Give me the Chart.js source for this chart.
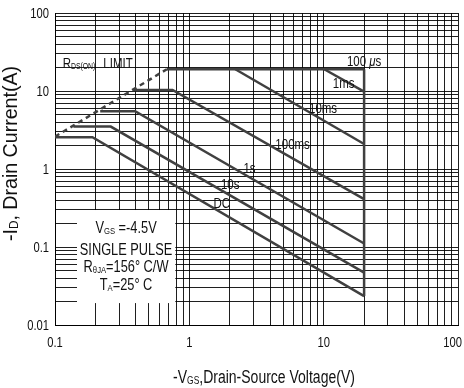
<!DOCTYPE html>
<html>
<head>
<meta charset="utf-8">
<script src="https://cdn.jsdelivr.net/npm/chart.js@4.4.1/dist/chart.umd.min.js"></script>
<style>
  html, body { margin: 0; padding: 0; background: #fff; }
  canvas { display: block; }
</style>
</head>
<body>
<canvas id="soaChart" width="464" height="388"></canvas>
<script>
// axis decades
const xTickVals = [0.1, 1, 10, 100];
const xTickLabels = ['0.1', '1', '10', '100'];
const yTickVals = [0.01, 0.1, 1, 10, 100];
const yTickLabels = ['0.01', '0.1', '1', '10', '100'];

// SOA curves, -VDS (V) vs -ID (A)
const rdsV = [0.1, 0.68];          const rdsI = [2.6, 19];
const us100V = [0.68, 20];         const us100I = [19, 19];
const ms1V = [10.1, 20];           const ms1I = [19, 9.8];
const ms10V = [2.2, 20];           const ms10I = [19, 2.09];
const ms100V = [0.38, 0.75, 20];   const ms100I = [10.3, 10.3, 0.41];
const s1V = [0.217, 0.395, 20];    const s1I = [5.5, 5.5, 0.111];
const s10V = [0.137, 0.26, 20];    const s10I = [3.5, 3.5, 0.047];
const dcV = [0.1, 0.19, 20];       const dcI = [2.55, 2.55, 0.0235];
const bvV = [20, 20];              const bvI = [19, 0.0235];

const FONT = '"Liberation Sans", Arial, Helvetica, sans-serif';
const LINE = '#404040';

// 1..9 per decade for the log grid
function logGrid(decades) {
  const out = [];
  for (let k = 0; k < decades.length - 1; k++) {
    for (let m = 1; m < 10; m++) out.push(m * decades[k]);
  }
  out.push(decades[decades.length - 1]);
  return out;
}
function pts(v, i) { return v.map((x, k) => ({ x: x, y: i[k] })); }
function curve(v, i, extra) {
  return Object.assign({
    data: pts(v, i), showLine: true, pointRadius: 0, borderColor: LINE,
    borderWidth: 2.5, fill: false, tension: 0
  }, extra || {});
}

// text runs: n normal, s subscript, i italic. datasheet text is narrow, hence sx
function rich(ctx, parts, x, y, size, sx, align) {
  const runs = parts.map(p => {
    const sub = p[1] === 's';
    const fs = sub ? size * 0.6 : size;
    const font = (p[1] === 'i' ? 'italic ' : '') + fs.toFixed(1) + 'px ' + FONT;
    ctx.font = font;
    return { t: p[0], font: font, w: ctx.measureText(p[0]).width, dy: sub ? size * 0.08 : 0 };
  });
  const total = runs.reduce((a, r) => a + r.w, 0);
  let cx = align === 'center' ? -total / 2 : align === 'right' ? -total : 0;
  // keep labels inside the canvas
  const maxX = ctx.canvas.width - 2;
  if (x + (cx + total) * sx > maxX) cx = (maxX - x) / sx - total;
  ctx.save();
  ctx.translate(x, y);
  ctx.scale(sx, 1);
  ctx.textAlign = 'left';
  ctx.textBaseline = 'alphabetic';
  ctx.fillStyle = '#111';
  runs.forEach(r => { ctx.font = r.font; ctx.fillText(r.t, cx, r.dy); cx += r.w; });
  ctx.restore();
}

// annotation anchors are in data units (V, A): left edge / baseline
const curveNotes = [
  { parts: [['100 ', 'n'], ['\u03bc', 'i'], ['s', 'n']], v: 14.9, i: 21.1 },
  { parts: [['1ms', 'n']], v: 11.7, i: 11.0 },
  { parts: [['10ms', 'n']], v: 7.78, i: 5.3 },
  { parts: [['100ms', 'n']], v: 4.37, i: 1.8 },
  { parts: [['1s', 'n']], v: 2.53, i: 0.897 },
  { parts: [['10s', 'n']], v: 1.72, i: 0.554 },
  { parts: [['DC', 'n']], v: 1.51, i: 0.313 },
  { parts: [['R', 'n'], ['DS(ON)', 's']], v: 0.114, i: 19.5 },
  { parts: [['LIMIT', 'n']], v: 0.229, i: 19.5 }
];
const boxNotes = [
  { parts: [['V', 'n'], ['GS', 's'], [' =-4.5V', 'n']], i: 0.151 },
  { parts: [['SINGLE PULSE', 'n']], i: 0.0789 },
  { parts: [['R', 'n'], ['\u03b8', 's'], ['JA', 's'], ['=156\u00b0 C/W', 'n']], i: 0.0482 },
  { parts: [['T', 'n'], ['A', 's'], ['=25\u00b0 C', 'n']], i: 0.0281 }
];

const soaText = {
  id: 'soaText',
  beforeDatasetsDraw(chart) {
    const { ctx, scales: { x, y } } = chart;
    const l = x.getPixelForValue(0.1458), r = x.getPixelForValue(0.786);
    const t = y.getPixelForValue(0.298), b = y.getPixelForValue(0.0191);
    ctx.save();
    ctx.fillStyle = '#fff';
    ctx.fillRect(l, t, r - l, b - t);
    ctx.restore();
  },
  afterDatasetsDraw(chart) {
    const { ctx, chartArea, scales: { x, y } } = chart;

    // tick labels at the decades
    xTickVals.forEach((v, k) => rich(ctx, [[xTickLabels[k], 'n']], x.getPixelForValue(v), chartArea.bottom + 22, 14, 0.8, 'center'));
    yTickVals.forEach((v, k) => rich(ctx, [[yTickLabels[k], 'n']], chartArea.left - 6, y.getPixelForValue(v) + 5, 14, 0.8, 'right'));

    curveNotes.forEach(n => rich(ctx, n.parts, x.getPixelForValue(n.v), y.getPixelForValue(n.i), 14, 0.82, 'left'));
    const cx = x.getPixelForValue(0.338);
    boxNotes.forEach(n => rich(ctx, n.parts, cx, y.getPixelForValue(n.i), 16, 0.8, 'center'));

    // axis titles
    rich(ctx, [['-V', 'n'], ['GS', 's'], [',Drain-Source Voltage(V)', 'n']], 264, 383, 17.5, 0.8, 'center');
    ctx.save();
    ctx.translate(16.5, 153.5);
    ctx.rotate(-Math.PI / 2);
    rich(ctx, [['-I', 'n'], ['D', 's'], [', Drain Current(A)', 'n']], 0, 0, 20, 0.98, 'center');
    ctx.restore();
  }
};

const gridOpts = { color: 'rgba(0,0,0,0.88)', lineWidth: 1, drawTicks: false };

new Chart(document.getElementById('soaChart'), {
  type: 'scatter',
  data: {
    datasets: [
      curve(rdsV, rdsI, { borderDash: [5, 4] }),
      curve(us100V, us100I),
      curve(ms1V, ms1I),
      curve(ms10V, ms10I),
      curve(ms100V, ms100I),
      curve(s1V, s1I),
      curve(s10V, s10I),
      curve(dcV, dcI),
      curve(bvV, bvI)
    ]
  },
  options: {
    responsive: false,
    animation: false,
    layout: { padding: { top: 13, right: 6, bottom: 0, left: 0 } },
    plugins: { legend: { display: false }, tooltip: { enabled: false } },
    scales: {
      x: {
        type: 'logarithmic', min: 0.1, max: 100,
        afterBuildTicks: s => { s.ticks = logGrid(xTickVals).map(v => ({ value: v })); },
        afterFit: s => { s.height = 63; s.paddingLeft = 0; s.paddingRight = 0; },
        ticks: { display: false },
        grid: gridOpts,
        border: { color: '#000', width: 1 }
      },
      y: {
        type: 'logarithmic', min: 0.01, max: 100,
        afterBuildTicks: s => { s.ticks = logGrid(yTickVals).map(v => ({ value: v })); },
        afterFit: s => { s.width = 55; s.paddingTop = 0; s.paddingBottom = 0; },
        ticks: { display: false },
        grid: gridOpts,
        border: { color: '#000', width: 1 }
      }
    }
  },
  plugins: [soaText]
});
</script>
</body>
</html>
